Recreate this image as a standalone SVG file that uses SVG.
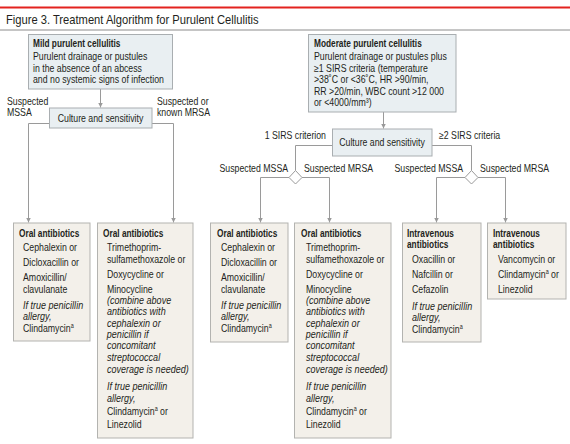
<svg xmlns="http://www.w3.org/2000/svg" width="570" height="444" viewBox="0 0 570 444">
<defs>
<marker id="ah" markerWidth="6" markerHeight="5" refX="5" refY="2.5" orient="auto" markerUnits="userSpaceOnUse">
<path d="M0,0 L5,2.5 L0,5 Z" fill="#9a9a9a"/>
</marker>
<style>
text{font-family:"Liberation Sans",Arial,sans-serif;font-size:10.5px;fill:#231f20;transform-box:fill-box;transform-origin:0% 50%;transform:scaleX(0.835)}
.t{font-size:13px;transform:scaleX(0.86)}
.b{font-weight:bold;transform:scaleX(0.79)}
.i{font-style:italic;transform:scaleX(0.86)}
.mid{transform-origin:50% 50%}
.end{transform-origin:100% 50%}
.top{fill:#e9eff2;stroke:#a9aeb1;stroke-width:1}
.bot{fill:#f3f0ea;stroke:#b3b3b0;stroke-width:1}
.c{fill:none;stroke:#9a9a9a;stroke-width:1}
.a{marker-end:url(#ah)}
.sup{font-size:6.5px}
</style>
</defs>
<rect width="570" height="444" fill="#ffffff"/>
<line x1="0" y1="7.5" x2="570" y2="7.5" stroke="#e3231f" stroke-width="2"/>
<text class="t" x="6" y="24.5">Figure 3. Treatment Algorithm for Purulent Cellulitis</text>
<line x1="0" y1="30" x2="570" y2="30" stroke="#8c8c8c" stroke-width="1"/>

<g id="connectors">
<path class="c a" d="M100.5,89 V107.5"/>
<path class="c a" d="M49,123.5 H28.5 V222.5"/>
<path class="c a" d="M152,123.5 H173.5 V222.5"/>
<path class="c a" d="M383.5,112 V128.5"/>
<path class="c" d="M332,145.5 H295.5 V170.5"/>
<path class="c a" d="M289,177.5 H260.5 V222.5"/>
<path class="c a" d="M302,177.5 H329.5 V222.5"/>
<path class="c" d="M432,145.5 H471.5 V170.5"/>
<path class="c a" d="M465,177.5 H436.5 V222.5"/>
<path class="c a" d="M478,177.5 H505.5 V222.5"/>
<path d="M295.5,170.5 L302,177.5 L295.5,184 L289,177.5 Z" fill="#ffffff" stroke="#9a9a9a"/>
<path d="M471.5,170.5 L478,177.5 L471.5,184 L465,177.5 Z" fill="#ffffff" stroke="#9a9a9a"/>
</g>

<g id="labels">
<text x="7" y="105.5">Suspected</text>
<text x="7" y="116.5">MSSA</text>
<text x="157" y="105.5">Suspected or</text>
<text x="157" y="116.5">known MRSA</text>
<text class="end" x="326" y="139.5" text-anchor="end">1 SIRS criterion</text>
<text x="439" y="139.5">≥2 SIRS criteria</text>
<text class="end" x="288" y="172.5" text-anchor="end">Suspected MSSA</text>
<text x="304" y="172.5">Suspected MRSA</text>
<text class="end" x="463" y="172.5" text-anchor="end">Suspected MSSA</text>
<text x="480" y="172.5">Suspected MRSA</text>
</g>

<g id="mild">
<rect class="top" x="28.5" y="34.5" width="144" height="54.5"/>
<text class="b" x="33" y="47">Mild purulent cellulitis</text>
<text x="33" y="60">Purulent drainage or pustules</text>
<text x="33" y="72">in the absence of an abcess</text>
<text x="33" y="83.5">and no systemic signs of infection</text>
</g>

<g id="culture1">
<rect class="top" x="49.5" y="108" width="102.5" height="20"/>
<text class="mid" x="100.5" y="122" text-anchor="middle">Culture and sensitivity</text>
</g>

<g id="moderate">
<rect class="top" x="308.5" y="34.5" width="147.5" height="77.5"/>
<text class="b" x="314" y="47">Moderate purulent cellulitis</text>
<text x="314" y="60">Purulent drainage or pustules plus</text>
<text x="314" y="71.7">≥1 SIRS criteria (temperature</text>
<text x="314" y="83.2">&gt;38˚C or &lt;36˚C, HR &gt;90/min,</text>
<text x="314" y="94.7">RR &gt;20/min, WBC count &gt;12 000</text>
<text x="314" y="106.2">or &lt;4000/mm³)</text>
</g>

<g id="culture2">
<rect class="top" x="332.5" y="129" width="99.5" height="27"/>
<text class="mid" x="382" y="146.5" text-anchor="middle">Culture and sensitivity</text>
</g>

<g id="box1">
<rect class="bot" x="13.5" y="223" width="76.5" height="118"/>
<text class="b" x="19" y="237.5">Oral antibiotics</text>
<text x="23" y="251">Cephalexin or</text>
<text x="23" y="266">Dicloxacillin or</text>
<text x="23" y="281">Amoxicillin/</text>
<text x="23" y="293">clavulanate</text>
<text class="i" x="23" y="309.5">If true penicillin</text>
<text class="i" x="23" y="320">allergy,</text>
<text x="23" y="332.5">Clindamycin<tspan class="sup" dy="-4">a</tspan></text>
</g>

<g id="box2">
<rect class="bot" x="97.5" y="223" width="95.5" height="215"/>
<text class="b" x="103" y="237.5">Oral antibiotics</text>
<text x="107" y="251">Trimethoprim-</text>
<text x="107" y="263.5">sulfamethoxazole or</text>
<text x="107" y="278">Doxycycline or</text>
<text x="107" y="293">Minocycline</text>
<text class="i" x="107" y="304">(combine above</text>
<text class="i" x="107" y="315">antibiotics with</text>
<text class="i" x="107" y="327">cephalexin or</text>
<text class="i" x="107" y="338.5">penicillin if</text>
<text class="i" x="107" y="349.5">concomitant</text>
<text class="i" x="107" y="361">streptococcal</text>
<text class="i" x="107" y="373">coverage is needed)</text>
<text class="i" x="107" y="390">If true penicillin</text>
<text class="i" x="107" y="402.5">allergy,</text>
<text x="107" y="415">Clindamycin<tspan class="sup" dy="-4">a</tspan><tspan dy="4"> or</tspan></text>
<text x="107" y="428.5">Linezolid</text>
</g>

<g id="box3">
<rect class="bot" x="210.5" y="223" width="77.5" height="119"/>
<text class="b" x="217" y="237.5">Oral antibiotics</text>
<text x="221" y="251">Cephalexin or</text>
<text x="221" y="266">Dicloxacillin or</text>
<text x="221" y="281">Amoxicillin/</text>
<text x="221" y="293">clavulanate</text>
<text class="i" x="221" y="309.5">If true penicillin</text>
<text class="i" x="221" y="320">allergy,</text>
<text x="221" y="332.5">Clindamycin<tspan class="sup" dy="-4">a</tspan></text>
</g>

<g id="box4">
<rect class="bot" x="294.5" y="223" width="96.5" height="215"/>
<text class="b" x="301" y="237.5">Oral antibiotics</text>
<text x="306" y="251">Trimethoprim-</text>
<text x="306" y="263.5">sulfamethoxazole or</text>
<text x="306" y="278">Doxycycline or</text>
<text x="306" y="293">Minocycline</text>
<text class="i" x="306" y="304">(combine above</text>
<text class="i" x="306" y="315">antibiotics with</text>
<text class="i" x="306" y="327">cephalexin or</text>
<text class="i" x="306" y="338.5">penicillin if</text>
<text class="i" x="306" y="349.5">concomitant</text>
<text class="i" x="306" y="361">streptococcal</text>
<text class="i" x="306" y="373">coverage is needed)</text>
<text class="i" x="306" y="390">If true penicillin</text>
<text class="i" x="306" y="402.5">allergy,</text>
<text x="306" y="415">Clindamycin<tspan class="sup" dy="-4">a</tspan><tspan dy="4"> or</tspan></text>
<text x="306" y="428.5">Linezolid</text>
</g>

<g id="box5">
<rect class="bot" x="402.5" y="223" width="78.5" height="119"/>
<text class="b" x="407" y="237.5">Intravenous</text>
<text class="b" x="407" y="248.5">antibiotics</text>
<text x="412" y="263">Oxacillin or</text>
<text x="412" y="278">Nafcillin or</text>
<text x="412" y="293">Cefazolin</text>
<text class="i" x="412" y="310">If true penicillin</text>
<text class="i" x="412" y="321">allergy,</text>
<text x="412" y="333.5">Clindamycin<tspan class="sup" dy="-4">a</tspan></text>
</g>

<g id="box6">
<rect class="bot" x="487.5" y="223" width="78.5" height="76"/>
<text class="b" x="493" y="237.5">Intravenous</text>
<text class="b" x="493" y="248.5">antibiotics</text>
<text x="498" y="263">Vancomycin or</text>
<text x="498" y="278">Clindamycin<tspan class="sup" dy="-4">a</tspan><tspan dy="4"> or</tspan></text>
<text x="498" y="293">Linezolid</text>
</g>
</svg>
